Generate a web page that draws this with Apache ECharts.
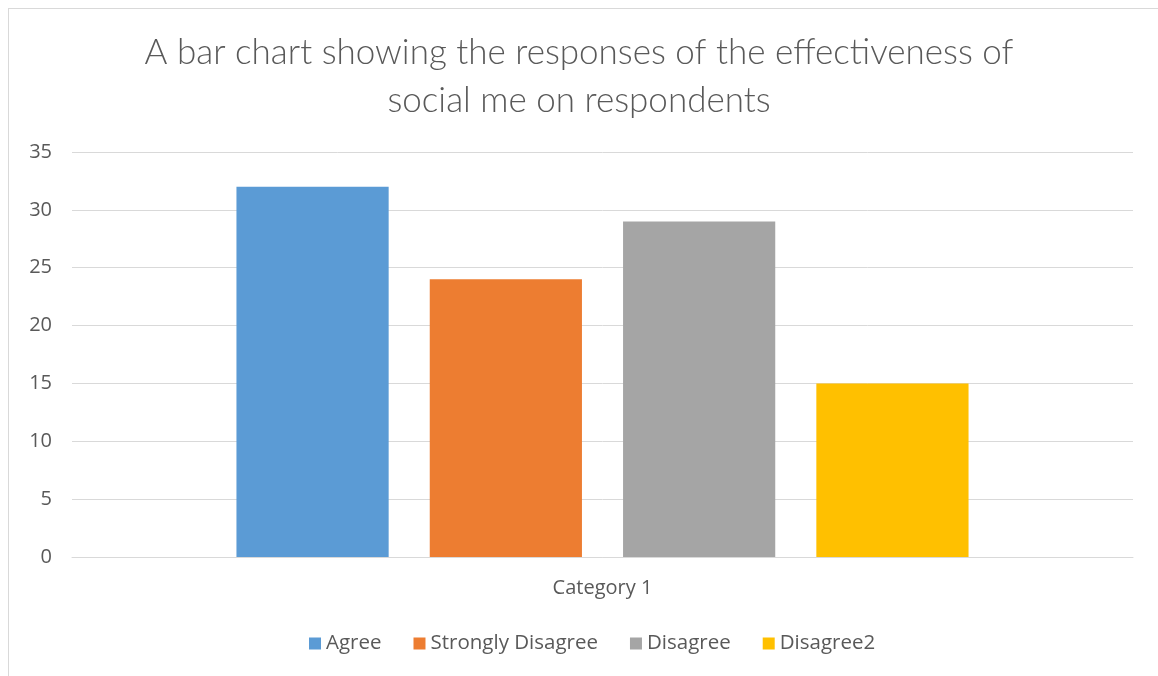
<!DOCTYPE html>
<html><head><meta charset="utf-8">
<script src="https://cdn.jsdelivr.net/npm/echarts@6/dist/echarts.min.js"></script>
<style>
html,body{margin:0;padding:0;background:#fff;}
#frame{position:absolute;left:8px;top:8px;width:1160px;height:670px;border:1px solid #d9d9d9;box-sizing:border-box;}
#c{position:absolute;left:0;top:0;width:1158px;height:676px;}
</style></head>
<body><div id="frame"></div><div id="c"></div>
<script>
const titleText = "A bar chart showing the responses of the effectiveness of\nsocial me on respondents";
const categories = ["Category 1"];
const seriesNames = ["Agree", "Strongly Disagree", "Disagree", "Disagree2"];
const agree = [32];
const stronglyDisagree = [24];
const disagree = [29];
const disagree2 = [15];
const colors = ["#5B9BD5", "#ED7D31", "#A5A5A5", "#FFC000"];
const titleFont = "Lato, sans-serif";
const font = "'Open Sans', sans-serif";
const values = [agree, stronglyDisagree, disagree, disagree2];

const chart = echarts.init(document.getElementById('c'), null, {renderer:'canvas'});
chart.setOption({
  backgroundColor: 'transparent',
  color: colors,
  animation: false,
  title: {
    text: titleText, left: 'center', top: 24,
    textStyle: {fontFamily: titleFont, fontSize: 35, fontWeight: 300, color: '#595959', lineHeight: 48}
  },
  legend: {
    data: seriesNames, top: 628, left: 304, itemWidth: 12, itemHeight: 12, itemGap: 32,
    icon: 'rect',
    textStyle: {fontFamily: font, fontSize: 20.5, color: '#595959'}
  },
  grid: {left: 72, right: 25, top: 152, bottom: 119, containLabel: false},
  xAxis: {
    type: 'category', data: categories,
    axisLine: {show: true, lineStyle: {color: '#d9d9d9', width: 1}},
    axisTick: {show: false},
    axisLabel: {fontFamily: font, fontSize: 20, color: '#595959', margin: 21}
  },
  yAxis: {
    type: 'value', min: 0, max: 35, interval: 5,
    axisLine: {show: false}, axisTick: {show: false},
    axisLabel: {fontFamily: font, fontSize: 20, color: '#595959', margin: 20},
    splitLine: {lineStyle: {color: '#d9d9d9', width: 1}}
  },
  series: seriesNames.map((n, i) => ({
    name: n, type: 'bar', data: values[i],
    barGap: '27%', barCategoryGap: '31%'
  }))
});
</script></body></html>
